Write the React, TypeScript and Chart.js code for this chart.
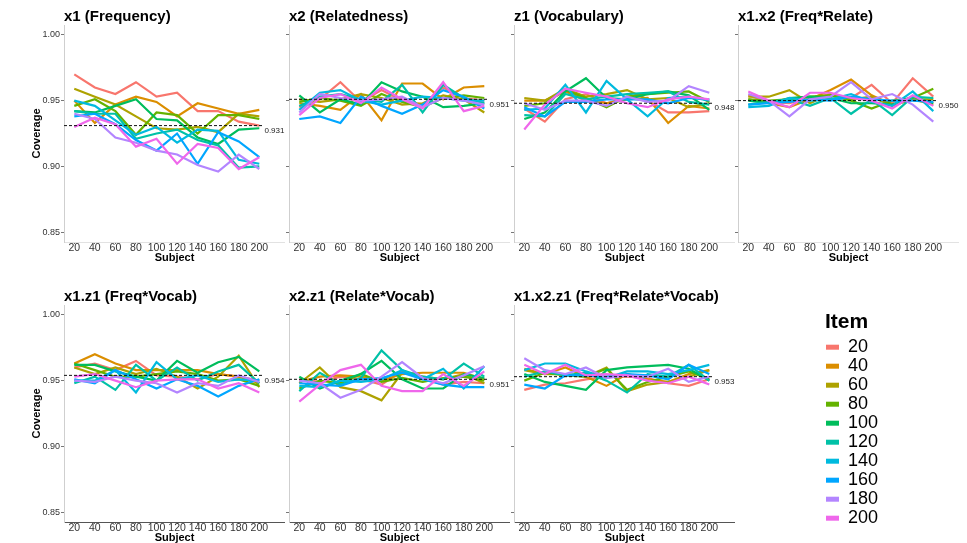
import React, { useEffect, useRef } from "react";
import { Chart, registerables } from "chart.js";

Chart.register(...registerables);

const FONT = "'Liberation Sans', Arial, Helvetica, sans-serif";

// ---------- data ----------
const subjects = [20, 40, 60, 80, 100, 120, 140, 160, 180, 200];
const items = ["20", "40", "60", "80", "100", "120", "140", "160", "180", "200"];
const itemColors = ["#F8766D", "#DB8E00", "#AEA200", "#64B200", "#00BD5C", "#00C1A7", "#00BADE", "#00A6FF", "#B385FF", "#EF67EB"];
const yTicks = [0.85, 0.9, 0.95, 1.0];

const panelTitles = [
  "x1 (Frequency)",
  "x2 (Relatedness)",
  "z1 (Vocabulary)",
  "x1.x2 (Freq*Relate)",
  "x1.z1 (Freq*Vocab)",
  "x2.z1 (Relate*Vocab)",
  "x1.x2.z1 (Freq*Relate*Vocab)",
];
const panelMeans = [0.931, 0.951, 0.948, 0.95, 0.954, 0.951, 0.953];

// rows = items (20..200), columns = subjects (20..200)
const x1Frequency = [
  [0.970, 0.960, 0.955, 0.964, 0.953, 0.956, 0.942, 0.942, 0.934, 0.931],
  [0.950, 0.933, 0.947, 0.953, 0.949, 0.938, 0.948, 0.944, 0.940, 0.943],
  [0.959, 0.953, 0.947, 0.938, 0.929, 0.928, 0.930, 0.926, 0.940, 0.938],
  [0.946, 0.951, 0.942, 0.924, 0.941, 0.939, 0.925, 0.939, 0.939, 0.936],
  [0.942, 0.941, 0.946, 0.951, 0.936, 0.935, 0.922, 0.917, 0.928, 0.929],
  [0.942, 0.940, 0.940, 0.921, 0.925, 0.928, 0.920, 0.916, 0.899, 0.900],
  [0.950, 0.946, 0.935, 0.924, 0.930, 0.918, 0.928, 0.927, 0.905, 0.902],
  [0.938, 0.940, 0.932, 0.920, 0.912, 0.925, 0.902, 0.926, 0.919, 0.907],
  [0.940, 0.936, 0.922, 0.918, 0.912, 0.909, 0.901, 0.896, 0.909, 0.898],
  [0.930, 0.937, 0.932, 0.915, 0.921, 0.902, 0.917, 0.914, 0.898, 0.907],
];
const x2Relatedness = [
  [0.945, 0.951, 0.964, 0.949, 0.958, 0.950, 0.947, 0.960, 0.952, 0.950],
  [0.948, 0.946, 0.943, 0.955, 0.935, 0.963, 0.963, 0.951, 0.960, 0.961],
  [0.951, 0.949, 0.951, 0.955, 0.952, 0.947, 0.948, 0.954, 0.951, 0.941],
  [0.949, 0.952, 0.950, 0.946, 0.955, 0.949, 0.945, 0.952, 0.954, 0.952],
  [0.954, 0.941, 0.951, 0.947, 0.964, 0.957, 0.953, 0.945, 0.946, 0.948],
  [0.946, 0.953, 0.955, 0.951, 0.949, 0.962, 0.941, 0.962, 0.952, 0.948],
  [0.943, 0.956, 0.958, 0.950, 0.947, 0.950, 0.953, 0.952, 0.950, 0.950],
  [0.936, 0.938, 0.933, 0.953, 0.946, 0.940, 0.947, 0.958, 0.953, 0.944],
  [0.941, 0.955, 0.952, 0.950, 0.951, 0.953, 0.945, 0.952, 0.950, 0.947],
  [0.939, 0.952, 0.955, 0.948, 0.960, 0.951, 0.944, 0.964, 0.942, 0.946],
];
const z1Vocabulary = [
  [0.944, 0.934, 0.951, 0.955, 0.948, 0.952, 0.950, 0.941, 0.941, 0.942],
  [0.950, 0.950, 0.957, 0.950, 0.948, 0.951, 0.952, 0.933, 0.946, 0.944],
  [0.952, 0.950, 0.959, 0.953, 0.955, 0.958, 0.951, 0.952, 0.945, 0.948],
  [0.946, 0.948, 0.958, 0.952, 0.945, 0.953, 0.955, 0.956, 0.957, 0.949],
  [0.936, 0.941, 0.957, 0.967, 0.952, 0.951, 0.955, 0.957, 0.954, 0.943],
  [0.939, 0.938, 0.955, 0.951, 0.953, 0.955, 0.956, 0.957, 0.949, 0.947],
  [0.943, 0.944, 0.962, 0.941, 0.965, 0.951, 0.938, 0.952, 0.953, 0.950],
  [0.945, 0.938, 0.949, 0.949, 0.951, 0.951, 0.951, 0.948, 0.952, 0.951],
  [0.948, 0.943, 0.950, 0.950, 0.946, 0.953, 0.949, 0.950, 0.961, 0.956],
  [0.928, 0.947, 0.959, 0.956, 0.953, 0.948, 0.945, 0.951, 0.953, 0.951],
];
const x1x2FreqRelate = [
  [0.954, 0.949, 0.948, 0.952, 0.955, 0.952, 0.962, 0.948, 0.967, 0.953],
  [0.951, 0.948, 0.945, 0.951, 0.958, 0.966, 0.954, 0.947, 0.951, 0.947],
  [0.953, 0.953, 0.958, 0.948, 0.955, 0.951, 0.953, 0.946, 0.951, 0.951],
  [0.951, 0.950, 0.951, 0.953, 0.954, 0.950, 0.944, 0.950, 0.952, 0.959],
  [0.950, 0.948, 0.952, 0.953, 0.952, 0.948, 0.948, 0.947, 0.953, 0.948],
  [0.947, 0.949, 0.951, 0.946, 0.952, 0.940, 0.951, 0.939, 0.953, 0.952],
  [0.945, 0.946, 0.952, 0.950, 0.951, 0.955, 0.949, 0.946, 0.957, 0.942],
  [0.947, 0.948, 0.949, 0.951, 0.950, 0.953, 0.951, 0.950, 0.950, 0.949],
  [0.955, 0.950, 0.938, 0.951, 0.953, 0.964, 0.951, 0.955, 0.947, 0.934],
  [0.957, 0.950, 0.945, 0.956, 0.956, 0.952, 0.950, 0.944, 0.954, 0.946],
];
const x1z1FreqVocab = [
  [0.960, 0.963, 0.958, 0.965, 0.954, 0.953, 0.951, 0.955, 0.953, 0.950],
  [0.963, 0.970, 0.963, 0.958, 0.958, 0.958, 0.958, 0.955, 0.953, 0.948],
  [0.960, 0.955, 0.960, 0.955, 0.959, 0.953, 0.944, 0.953, 0.969, 0.945],
  [0.963, 0.958, 0.953, 0.953, 0.955, 0.957, 0.955, 0.950, 0.951, 0.946],
  [0.962, 0.962, 0.957, 0.953, 0.950, 0.965, 0.956, 0.964, 0.968, 0.957],
  [0.948, 0.953, 0.943, 0.962, 0.950, 0.960, 0.950, 0.957, 0.962, 0.948],
  [0.950, 0.950, 0.958, 0.941, 0.964, 0.951, 0.954, 0.949, 0.951, 0.950],
  [0.951, 0.948, 0.958, 0.951, 0.944, 0.951, 0.946, 0.938, 0.946, 0.951],
  [0.950, 0.949, 0.953, 0.950, 0.948, 0.941, 0.948, 0.946, 0.954, 0.949],
  [0.953, 0.955, 0.950, 0.945, 0.950, 0.951, 0.951, 0.944, 0.948, 0.941],
];
const x2z1RelateVocab = [
  [0.951, 0.949, 0.953, 0.951, 0.947, 0.957, 0.952, 0.947, 0.949, 0.948],
  [0.949, 0.953, 0.954, 0.953, 0.950, 0.955, 0.956, 0.956, 0.956, 0.951],
  [0.948, 0.960, 0.945, 0.942, 0.935, 0.956, 0.953, 0.951, 0.955, 0.948],
  [0.944, 0.950, 0.948, 0.955, 0.949, 0.952, 0.949, 0.952, 0.953, 0.950],
  [0.953, 0.944, 0.950, 0.955, 0.965, 0.951, 0.944, 0.944, 0.955, 0.952],
  [0.942, 0.956, 0.947, 0.952, 0.973, 0.958, 0.953, 0.951, 0.963, 0.953],
  [0.946, 0.945, 0.950, 0.949, 0.951, 0.958, 0.951, 0.959, 0.944, 0.961],
  [0.948, 0.947, 0.946, 0.951, 0.952, 0.956, 0.951, 0.947, 0.945, 0.945],
  [0.950, 0.948, 0.937, 0.943, 0.953, 0.964, 0.952, 0.948, 0.954, 0.961],
  [0.934, 0.947, 0.958, 0.962, 0.946, 0.942, 0.942, 0.955, 0.946, 0.957],
];
const x1x2z1FreqRelateVocab = [
  [0.943, 0.947, 0.948, 0.951, 0.953, 0.953, 0.952, 0.948, 0.946, 0.951],
  [0.959, 0.955, 0.960, 0.953, 0.946, 0.955, 0.951, 0.949, 0.955, 0.958],
  [0.958, 0.955, 0.955, 0.953, 0.960, 0.942, 0.947, 0.949, 0.953, 0.958],
  [0.950, 0.956, 0.954, 0.953, 0.959, 0.943, 0.949, 0.953, 0.957, 0.951],
  [0.955, 0.949, 0.946, 0.943, 0.958, 0.960, 0.961, 0.962, 0.959, 0.950],
  [0.953, 0.957, 0.954, 0.956, 0.950, 0.941, 0.955, 0.953, 0.962, 0.950],
  [0.958, 0.963, 0.963, 0.957, 0.952, 0.957, 0.957, 0.955, 0.958, 0.962],
  [0.947, 0.944, 0.954, 0.954, 0.953, 0.955, 0.954, 0.951, 0.962, 0.955],
  [0.967, 0.958, 0.955, 0.960, 0.952, 0.954, 0.953, 0.959, 0.949, 0.953],
  [0.962, 0.955, 0.962, 0.954, 0.955, 0.954, 0.950, 0.948, 0.953, 0.947],
];

const panelSeries = [
  x1Frequency,
  x2Relatedness,
  z1Vocabulary,
  x1x2FreqRelate,
  x1z1FreqVocab,
  x2z1RelateVocab,
  x1x2z1FreqRelateVocab,
];

// ---------- layout ----------
const COL_LEFT = [64, 289, 514, 738];
const ROW_TOP = [0, 280];
const PLOT_W = 221;
const PANEL_H = 265;
const LABEL_AT = 205;

const refLinePlugin = {
  id: "refLine",
  afterDatasetsDraw(chart: any, _args: any, opts: any) {
    const { ctx, chartArea, scales } = chart;
    const py = scales.y.getPixelForValue(opts.value);
    const tx = scales.x.getPixelForValue(opts.labelAt);
    ctx.save();
    ctx.strokeStyle = "#111";
    ctx.lineWidth = 1;
    ctx.setLineDash([3, 2]);
    ctx.beginPath();
    ctx.moveTo(chartArea.left, py);
    ctx.lineTo(tx - 2, py);
    ctx.stroke();
    ctx.setLineDash([]);
    ctx.font = `8px ${FONT}`;
    ctx.fillStyle = "#222";
    ctx.textBaseline = "middle";
    ctx.textAlign = "left";
    ctx.fillText(opts.value.toFixed(3), tx, py + 5);
    ctx.restore();
  },
};

function panelConfig(p: number): any {
  const row = p < 4 ? 0 : 1;
  const col = p < 4 ? p : p - 4;
  const yW = col === 0 ? 64 : 5;
  const series = panelSeries[p];
  return {
    type: "line",
    data: {
      datasets: items.map((it, i) => ({
        label: it,
        data: subjects.map((s, j) => ({ x: s, y: series[i][j] })),
        borderColor: itemColors[i],
        backgroundColor: itemColors[i],
        borderWidth: 2.2,
        pointRadius: 0,
        tension: 0,
        fill: false,
        order: items.length - i,
      })),
    },
    options: {
      responsive: false,
      animation: false,
      events: [],
      layout: { padding: 0 },
      plugins: {
        legend: { display: false },
        tooltip: { enabled: false },
        title: {
          display: true,
          text: panelTitles[p],
          align: "start",
          fullSize: false,
          color: "#000",
          font: { family: FONT, size: 15, weight: "bold", lineHeight: 1 },
          padding: { top: 9, bottom: 1 },
        },
        refLine: { value: panelMeans[p], labelAt: LABEL_AT },
      },
      scales: {
        x: {
          type: "linear",
          min: 10,
          max: 225,
          afterBuildTicks: (s: any) => {
            s.ticks = subjects.map((v) => ({ value: v }));
          },
          afterFit: (s: any) => {
            s.height = 23;
          },
          border: { display: true, color: row === 0 ? "#e2e2e2" : "#555", width: 1 },
          grid: { display: true, drawOnChartArea: false, drawTicks: true, tickLength: 2, tickColor: "#666" },
          ticks: {
            font: { family: FONT, size: 10.5, lineHeight: 1 },
            color: "#333",
            padding: -1,
            maxRotation: 0,
            autoSkip: false,
            callback: (v: any) => String(v),
          },
          title: {
            display: true,
            text: "Subject",
            color: "#000",
            font: { family: FONT, size: 11, weight: "bold" },
            padding: 0,
          },
        },
        y: {
          type: "linear",
          min: 0.8425,
          max: 1.0075,
          afterBuildTicks: (s: any) => {
            s.ticks = yTicks.map((v) => ({ value: v }));
          },
          afterFit: (s: any) => {
            s.width = yW;
          },
          border: { display: true, color: "#cfcfcf", width: 1 },
          grid: { display: true, drawOnChartArea: false, drawTicks: true, tickLength: 3, tickColor: "#777" },
          ticks: {
            display: col === 0,
            font: { family: FONT, size: 9 },
            color: "#333",
            padding: 1,
            callback: (v: any) => Number(v).toFixed(2),
          },
          title: {
            display: col === 0,
            text: "Coverage",
            color: "#000",
            font: { family: FONT, size: 11, weight: "bold" },
            padding: { top: 30, bottom: 0 },
          },
        },
      },
    },
    plugins: [refLinePlugin],
  };
}

function legendConfig(): any {
  return {
    type: "line",
    data: {
      datasets: items.map((it, i) => ({
        label: it,
        data: [],
        borderColor: itemColors[i],
        backgroundColor: itemColors[i],
        borderWidth: 0,
      })),
    },
    options: {
      responsive: false,
      animation: false,
      events: [],
      layout: { padding: 0 },
      scales: { x: { display: false }, y: { display: false } },
      plugins: {
        tooltip: { enabled: false },
        legend: {
          display: true,
          position: "left",
          align: "start",
          title: {
            display: true,
            text: "Item",
            position: "start",
            color: "#000",
            font: { family: FONT, size: 21, weight: "bold" },
            padding: 0,
          },
          labels: {
            boxWidth: 13,
            boxHeight: 5,
            padding: 1,
            color: "#000",
            font: { family: FONT, size: 18, lineHeight: 1 },
          },
        },
      },
    },
  };
}

export default function App() {
  const refs = useRef<(HTMLCanvasElement | null)[]>([]);
  const legendRef = useRef<HTMLCanvasElement | null>(null);

  useEffect(() => {
    document.body.style.margin = "0";
    const charts: Chart[] = [];
    panelTitles.forEach((_, p) => {
      const c = refs.current[p];
      if (c) charts.push(new Chart(c, panelConfig(p)));
    });
    if (legendRef.current) charts.push(new Chart(legendRef.current, legendConfig()));
    return () => charts.forEach((c) => c.destroy());
  }, []);

  return (
    <div style={{ position: "relative", width: 967, height: 543, overflow: "hidden", background: "#fff" }}>
      {panelTitles.map((t, p) => {
        const row = p < 4 ? 0 : 1;
        const col = p < 4 ? p : p - 4;
        const yW = col === 0 ? 64 : 5;
        const left = COL_LEFT[col] - yW;
        const width = yW + PLOT_W;
        return (
          <canvas
            key={t}
            ref={(el) => {
              refs.current[p] = el;
            }}
            width={width}
            height={PANEL_H}
            style={{ position: "absolute", left, top: ROW_TOP[row], width, height: PANEL_H }}
          />
        );
      })}
      <canvas
        ref={legendRef}
        width={140}
        height={230}
        style={{ position: "absolute", left: 825, top: 312, width: 140, height: 230 }}
      />
    </div>
  );
}
